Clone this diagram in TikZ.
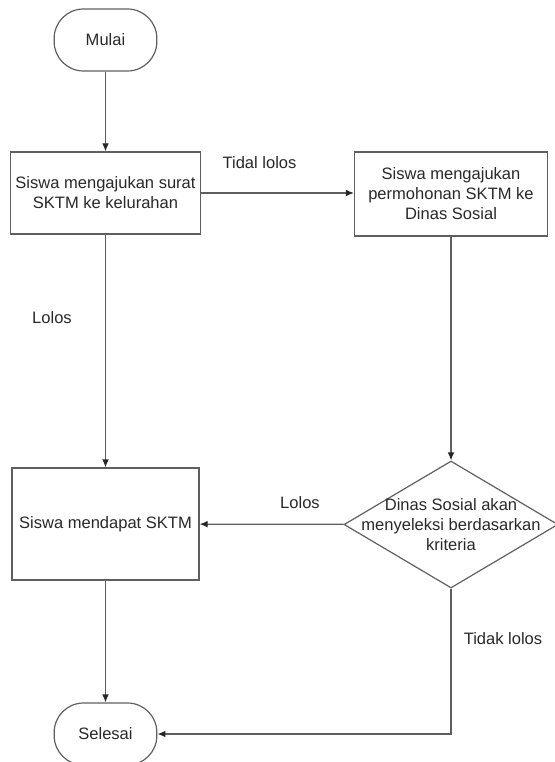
\documentclass[tikz,border=0pt]{standalone}
\usepackage{fontspec}
\setmainfont{Liberation Sans}
\usepackage{xcolor}
\usepackage{tikz}
\usetikzlibrary{arrows.meta,shapes.geometric}
\definecolor{garis}{RGB}{95,95,95}
\definecolor{teks}{RGB}{40,40,40}

\begin{document}
\begin{tikzpicture}[x=0.75pt,y=0.75pt,yscale=-1,xscale=1,
  every node/.style={font=\fontsize{12.4}{15}\selectfont,text=teks},
  terminal/.style={draw=garis,line width=0.9pt,rectangle,rounded corners=22pt,minimum width=77pt,minimum height=46.5pt,inner sep=0pt},
  proses/.style={draw=garis,line width=0.9pt,rectangle,align=center,inner sep=0pt},
  keputusan/.style={draw=garis,line width=0.9pt,diamond,inner sep=0pt,minimum width=160.5pt,minimum height=95.25pt},
  panah/.style={draw=garis,line width=0.9pt,-{Latex[length=6pt,width=5pt,color=black!85]}}]
\useasboundingbox (0,0) rectangle (554,762);
\node [terminal] (mulai) at (105.5,40) {Mulai};
\node [proses,minimum width=142.5pt,minimum height=61.5pt] (ajukan) at (105.5,193) {Siswa mengajukan surat\\SKTM ke kelurahan};
\node [proses,minimum width=144.75pt,minimum height=63pt] (dinsos) at (451,194) {Siswa mengajukan\\permohonan SKTM ke\\Dinas Sosial};
\node [proses,minimum width=140.25pt,minimum height=84pt] (dapat) at (105.5,524) {Siswa mendapat SKTM};
\node [keputusan,label={[align=center,text=teks]center:Dinas Sosial akan\\menyeleksi berdasarkan\\kriteria}] (seleksi) at (451,524.5) {};
\node [terminal] (selesai) at (105.5,734) {Selesai};
\node (tidal) at (259.5,163) {Tidal lolos};
\node (lolosa) at (52,318) {Lolos};
\node (lolosb) at (300,503) {Lolos};
\node (tidak) at (503,639) {Tidak lolos};
\draw [panah] (mulai) -- (ajukan);
\draw [panah] (ajukan) -- (ajukan -| dinsos.west);
\draw [panah] (ajukan) -- (dapat);
\draw [panah] (dinsos) -- (seleksi);
\draw [panah] (seleksi) -- (dapat);
\draw [panah] (dapat) -- (selesai);
\draw [panah] (seleksi.south) |- (selesai.east);
\end{tikzpicture}
\end{document}
